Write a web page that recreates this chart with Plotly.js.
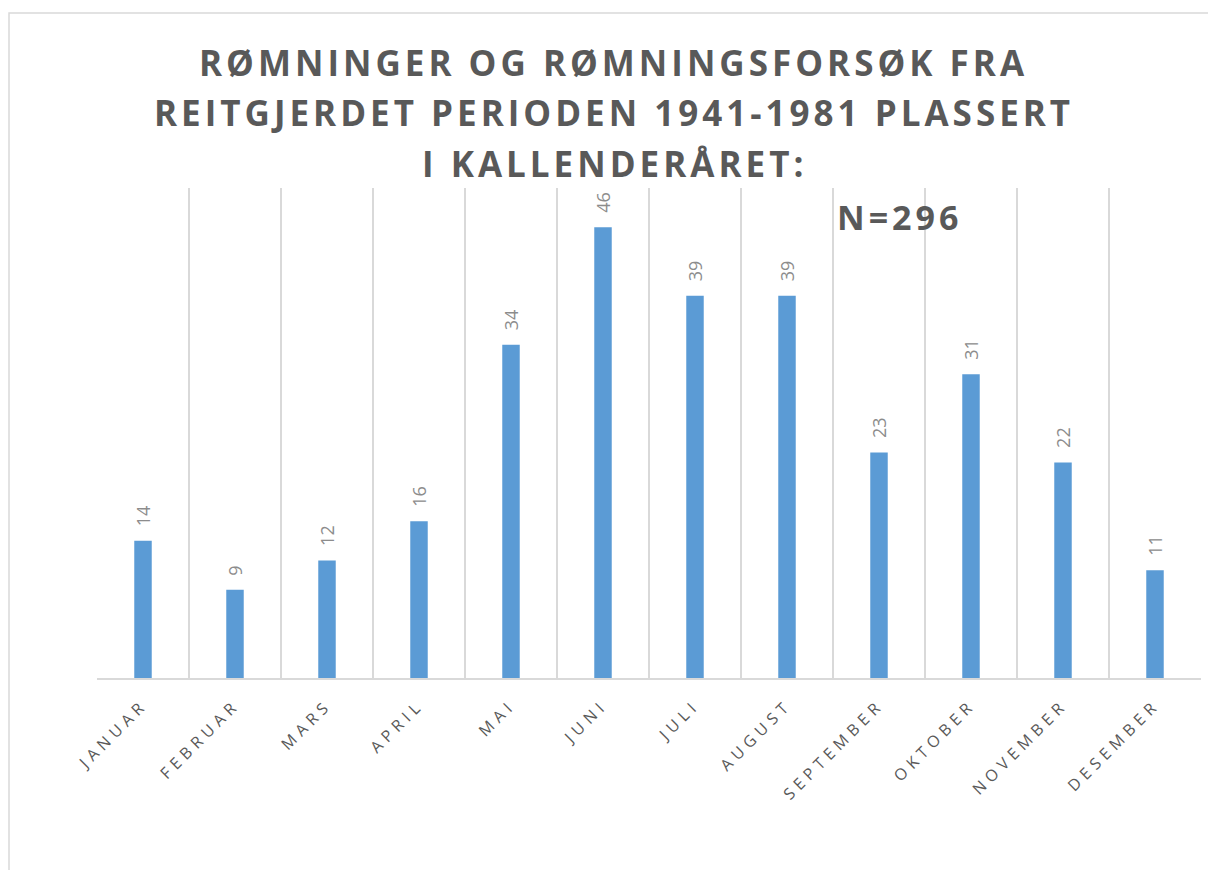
<!DOCTYPE html>
<html><head><meta charset="utf-8">
<script src="https://cdn.plot.ly/plotly-3.0.1.min.js"></script>
<style>
html,body{margin:0;padding:0;background:#fff;}
#chart{width:1208px;height:870px;}
.annotation[data-index="0"] .annotation-text,
.annotation[data-index="1"] .annotation-text,
.annotation[data-index="2"] .annotation-text,
.annotation[data-index="3"] .annotation-text{letter-spacing:4px;}
.xtick text{letter-spacing:5px;}
</style>
</head><body>
<div id="chart"></div>
<script>
const months = ["JANUAR","FEBRUAR","MARS","APRIL","MAI","JUNI","JULI","AUGUST","SEPTEMBER","OKTOBER","NOVEMBER","DESEMBER"];
const counts = [14, 9, 12, 16, 34, 46, 39, 39, 23, 31, 22, 11];
const titleLines = ["RØMNINGER OG RØMNINGSFORSØK FRA", "REITGJERDET PERIODEN 1941-1981 PLASSERT", "I KALLENDERÅRET:"];
const noteText = "N=296";

const FONT = "Open Sans, DejaVu Sans, sans-serif";

const trace = {
  type: "bar",
  x: months,
  y: counts,
  marker: {color: "#5B9BD5"},
  hoverinfo: "x+y"
};

const titleY = [1.2571, 1.1531, 1.0510];
const annotations = titleLines.map((t, i) => ({
  text: "<b>" + t + "</b>",
  xref: "paper", yref: "paper",
  x: 0.4683, y: titleY[i], xanchor: "center", yanchor: "middle",
  showarrow: false,
  font: {family: FONT, size: 35, color: "#595959"}
}));

annotations.push({
  text: "<b>" + noteText + "</b>",
  xref: "paper", yref: "paper",
  x: 0.6775, y: 0.94, xanchor: "left", yanchor: "middle",
  showarrow: false,
  font: {family: FONT, size: 34, color: "#595959"}
});

months.forEach((m, i) => {
  annotations.push({
    text: String(counts[i]),
    x: m, y: counts[i], xref: "x", yref: "y",
    xanchor: "center", yanchor: "bottom",
    yshift: 12, textangle: -90,
    showarrow: false,
    font: {family: FONT, size: 18, color: "#8c8c8c"}
  });
});

const layout = {
  width: 1208, height: 870,
  margin: {l: 97, r: 7, t: 188, b: 192},
  paper_bgcolor: "#fff", plot_bgcolor: "#fff",
  bargap: 0.81,
  showlegend: false,
  xaxis: {
    type: "category",
    tickson: "boundaries",
    showgrid: true, gridcolor: "#d9d9d9", gridwidth: 1.5,
    showline: true, linecolor: "#d9d9d9", linewidth: 1.5,
    ticks: "",
    tickangle: -45,
    ticklabelstandoff: 10,
    tickfont: {family: FONT, size: 16, color: "#595959"},
    range: [-0.5, 11.5]
  },
  yaxis: {
    range: [0, 50],
    showgrid: false, showticklabels: false, zeroline: false, showline: false, ticks: ""
  },
  annotations: annotations,
  shapes: [{
    type: "rect", xref: "paper", yref: "paper",
    x0: -0.0797, x1: 1.2, y0: -0.6, y1: 1.357,
    line: {color: "#d9d9d9", width: 1.5}, fillcolor: "rgba(0,0,0,0)", layer: "below"
  }]
};

Plotly.newPlot("chart", [trace], layout, {displayModeBar: false, staticPlot: true});
</script>
</body></html>
